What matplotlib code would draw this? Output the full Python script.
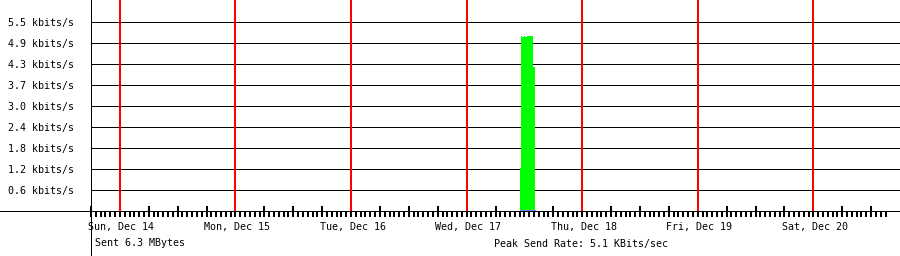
import matplotlib
matplotlib.use("Agg")
import matplotlib.pyplot as plt
import matplotlib.dates as mdates
from matplotlib.lines import Line2D
import pandas as pd
import numpy as np

# ---------------- data ----------------
x_start = "2014-12-13 18:00"
x_end = "2014-12-20 18:00"
tick_end = "2014-12-20 15:00"
day_lines = ["2014-12-14", "2014-12-15", "2014-12-16", "2014-12-17",
             "2014-12-18", "2014-12-19", "2014-12-20"]
day_labels = ["Sun, Dec 14", "Mon, Dec 15", "Tue, Dec 16", "Wed, Dec 17",
              "Thu, Dec 18", "Fri, Dec 19", "Sat, Dec 20"]

send_times = ["2014-12-17 11:00", "2014-12-17 11:18", "2014-12-17 11:33",
              "2014-12-17 11:52", "2014-12-17 12:12", "2014-12-17 12:27",
              "2014-12-17 13:47", "2014-12-17 14:12"]
send_rate = [1.25, 5.09, 5.05, 5.09, 5.05, 5.09, 4.19, 0.0]   # kbits/s

recv_times = ["2014-12-17 11:00", "2014-12-17 14:12"]
recv_rate = [0.04, 0.04]

grid_step = 0.609
y_labels = ["0.6 kbits/s", "1.2 kbits/s", "1.8 kbits/s", "2.4 kbits/s",
            "3.0 kbits/s", "3.7 kbits/s", "4.3 kbits/s", "4.9 kbits/s",
            "5.5 kbits/s"]
sent_text = "Sent 6.3 MBytes"
peak_text = "Peak Send Rate: 5.1 KBits/sec"

# ---------------- figure ----------------
W, H, DPI = 900, 256, 100
PT = 72.0 / DPI  # points per pixel
FONT = dict(family="DejaVu Sans Mono", size=7.2, color="black")

fig = plt.figure(figsize=(W / DPI, H / DPI), dpi=DPI, facecolor="white")
base_px = 211.3
left_px = 91
ax = fig.add_axes([left_px / W, (H - base_px) / H, 1 - left_px / W, base_px / H])
ax.set_facecolor("white")
for s in ax.spines.values():
    s.set_visible(False)

t0, t1 = pd.Timestamp(x_start), pd.Timestamp(x_end)
ax.set_xlim(mdates.date2num(t0), mdates.date2num(t1))
ax.set_ylim(0, 10.06 * grid_step)

# horizontal grid
yt = [grid_step * (i + 1) for i in range(len(y_labels))]
ax.set_yticks(yt)
ax.set_yticklabels(y_labels, fontdict=FONT)
ax.tick_params(axis="y", length=0, pad=17 * PT)
for y in yt:
    ax.axhline(y, color="black", lw=1 * PT, zorder=1)

# red day lines
for d in day_lines:
    ax.axvline(mdates.date2num(pd.Timestamp(d)), color="#ff0000",
               lw=2 * PT, zorder=2)

# send series
st = mdates.date2num(pd.to_datetime(send_times))
ax.fill_between(st, send_rate, 0, step="post", color="#00ff00",
                lw=0, zorder=3)
rt = mdates.date2num(pd.to_datetime(recv_times))
ax.plot(rt, recv_rate, color="#8080ff", lw=1 * PT, zorder=4)

# ticks
major = mdates.date2num(pd.date_range(t0, tick_end, freq="6h"))
minor = mdates.date2num(pd.date_range(t0, tick_end, freq="1h"))
ax.set_xticks(major)
ax.set_xticks(minor, minor=True)
ax.set_xticklabels([])
ax.tick_params(axis="x", which="major", direction="inout", length=11 * PT,
               width=2 * PT, color="black")
ax.tick_params(axis="x", which="minor", direction="out", length=5.5 * PT,
               width=2 * PT, color="black")

# day labels
for d, lab in zip(day_lines, day_labels):
    ax.annotate(lab, xy=(mdates.date2num(pd.Timestamp(d)), 0),
                xycoords=("data", "axes fraction"),
                xytext=(1.5 * PT, -16 * PT), textcoords="offset points",
                ha="center", va="center", **FONT)

# axis lines
fig.add_artist(Line2D([0, 1], [(H - base_px) / H] * 2, color="black",
                      lw=1 * PT, transform=fig.transFigure, zorder=5))
fig.add_artist(Line2D([90.5 / W] * 2, [0, 1], color="black",
                      lw=1 * PT, transform=fig.transFigure, zorder=5))

# footer texts
fig.text(95 / W, (H - 243) / H, sent_text, ha="left", va="center", **FONT)
fig.text(494 / W, (H - 244) / H, peak_text, ha="left", va="center", **FONT)

fig.savefig("out.png", dpi=DPI, facecolor="white")
